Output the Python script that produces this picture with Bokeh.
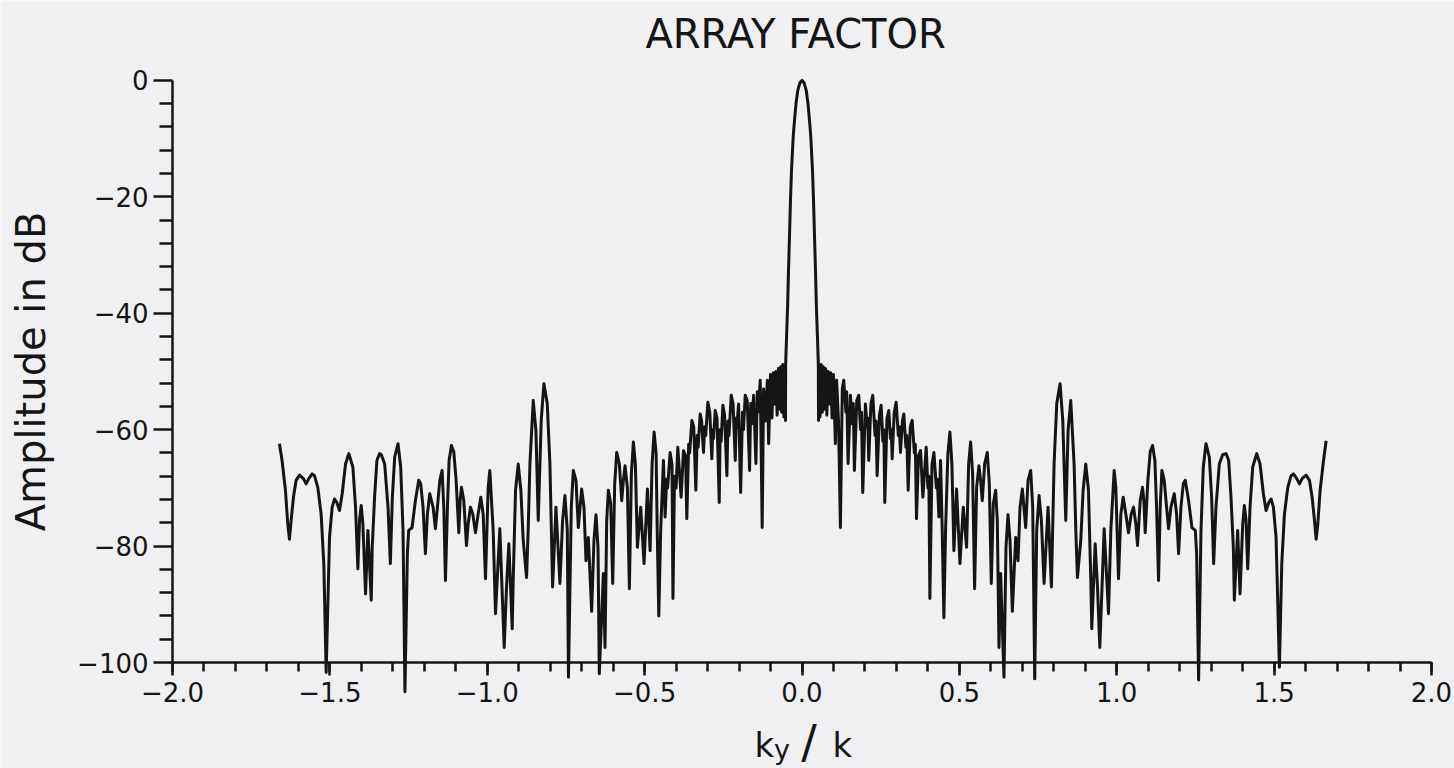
from bokeh.plotting import figure
from bokeh.models import Range1d, FixedTicker, Label
from bokeh.embed import file_html
from bokeh.resources import INLINE

# ---------------- data ----------------
# k_y / k  (left half, ascending, without 0)
K_LEFT = [
    -1.6603, -1.6519, -1.6412, -1.6338, -1.6285, -1.6232, -1.6158, -1.6073,
    -1.5967, -1.5840, -1.5755, -1.5670, -1.5564, -1.5490, -1.5384, -1.5278,
    -1.5193, -1.5118, -1.5012, -1.4927, -1.4853, -1.4779, -1.4694, -1.4609,
    -1.4503, -1.4397, -1.4270, -1.4185, -1.4111, -1.4058, -1.4005, -1.3952,
    -1.3867, -1.3792, -1.3686, -1.3654, -1.3580, -1.3506, -1.3421, -1.3365,
    -1.3259, -1.3153, -1.3079, -1.3015, -1.2941, -1.2835, -1.2750, -1.2676,
    -1.2615, -1.2538, -1.2496, -1.2389, -1.2283, -1.2177, -1.2114, -1.2040,
    -1.1965, -1.1902, -1.1827, -1.1721, -1.1647, -1.1583, -1.1508, -1.1434,
    -1.1381, -1.1328, -1.1265, -1.1212, -1.1138, -1.1063, -1.0989, -1.0904,
    -1.0862, -1.0820, -1.0745, -1.0660, -1.0607, -1.0533, -1.0459, -1.0374,
    -1.0289, -1.0205, -1.0130, -1.0056, -0.9971, -0.9918, -0.9812, -0.9738,
    -0.9600, -0.9462, -0.9388, -0.9314, -0.9207, -0.9176, -0.9101, -0.9016,
    -0.8932, -0.8857, -0.8751, -0.8700, -0.8645, -0.8539, -0.8454, -0.8380,
    -0.8285, -0.8200, -0.8094, -0.8009, -0.7924, -0.7818, -0.7691, -0.7606,
    -0.7532, -0.7457, -0.7420, -0.7330, -0.7266, -0.7181, -0.7107, -0.7001,
    -0.6927, -0.6863, -0.6789, -0.6683, -0.6609, -0.6545, -0.6481, -0.6440,
    -0.6311, -0.6259, -0.6205, -0.6152, -0.6078, -0.6014, -0.5951, -0.5887,
    -0.5802, -0.5728, -0.5675, -0.5622, -0.5548, -0.5484, -0.5421, -0.5357,
    -0.5294, -0.5230, -0.5124, -0.5018, -0.4911, -0.4826, -0.4763, -0.4699,
    -0.4635, -0.4600, -0.4550, -0.4490, -0.4402, -0.4349, -0.4300, -0.4270,
    -0.4190, -0.4130, -0.4100, -0.4050, -0.4000, -0.3946, -0.3840, -0.3766,
    -0.3700, -0.3660, -0.3600, -0.3570, -0.3500, -0.3440, -0.3373, -0.3330,
    -0.3300, -0.3235, -0.3190, -0.3129, -0.3090, -0.3060, -0.2991, -0.2930,
    -0.2864, -0.2835, -0.2810, -0.2758, -0.2700, -0.2630, -0.2600, -0.2570,
    -0.2514, -0.2460, -0.2387, -0.2350, -0.2320, -0.2249, -0.2190, -0.2120,
    -0.2090, -0.2070, -0.2015, -0.1950, -0.1890, -0.1860, -0.1803, -0.1740,
    -0.1665, -0.1630, -0.1600, -0.1538, -0.1464, -0.1420, -0.1395, -0.1326,
    -0.1265, -0.1220, -0.1160, -0.1100, -0.1060, -0.1000, -0.0955, -0.0910,
    -0.0870, -0.0830, -0.0790, -0.0750, -0.0715, -0.0680, -0.0645, -0.0610,
    -0.0575, -0.0545, -0.0525, -0.0519, -0.0490, -0.0455, -0.0428, -0.0398,
    -0.0368, -0.0334, -0.0280, -0.0240, -0.0191, -0.0134, -0.0065,
]
# amplitude in dB (left half)
DB_LEFT = [
    -62.4, -65.3, -70.4, -76.2, -78.8, -75.6, -71.6, -68.7,
    -67.8, -68.4, -69.3, -68.4, -67.6, -67.9, -69.9, -74.5,
    -83.0, -101.7, -78.5, -73.3, -71.9, -72.5, -73.9, -71.0,
    -65.9, -64.1, -66.4, -73.3, -83.9, -75.6, -73.0, -76.2,
    -88.2, -77.3, -89.3, -80.2, -71.6, -65.3, -64.1, -64.3,
    -65.9, -73.3, -83.0, -71.6, -64.7, -62.4, -66.4, -77.3,
    -105.0, -81.3, -77.3, -76.8, -72.2, -68.7, -69.3, -73.3,
    -81.3, -74.5, -71.0, -73.3, -77.0, -73.3, -68.7, -67.0,
    -73.3, -85.9, -73.3, -65.3, -62.7, -63.8, -68.7, -77.7,
    -72.2, -69.9, -72.2, -79.9, -76.2, -73.3, -74.5, -77.7,
    -74.5, -71.6, -74.5, -85.6, -69.9, -67.0, -77.3, -91.6,
    -77.0, -97.4, -87.0, -79.6, -94.2, -85.9, -70.4, -65.9,
    -70.4, -79.0, -85.4, -77.3, -65.9, -55.0, -60.1, -75.6,
    -58.4, -52.1, -55.5, -65.9, -87.0, -73.3, -86.4, -75.6,
    -71.3, -77.3, -102.5, -73.3, -67.0, -68.7, -76.8, -70.2,
    -73.3, -82.5, -78.5, -91.2, -79.0, -74.6, -80.2, -101.9,
    -84.7, -97.4, -75.6, -70.4, -72.7, -86.4, -69.3, -63.9,
    -65.9, -72.2, -68.7, -66.2, -69.9, -87.3, -67.6, -62.1,
    -65.9, -80.2, -73.3, -83.0, -70.2, -80.8, -65.9, -60.4,
    -64.1, -77.3, -92.0, -77.3, -65.3, -75.0, -68.5, -70.0,
    -63.9, -66.0, -89.0, -68.0, -70.0, -63.0, -71.6, -63.6,
    -64.5, -75.3, -62.5, -64.0, -58.4, -59.5, -70.4, -61.0,
    -63.0, -57.3, -58.5, -63.9, -59.5, -61.0, -55.3, -57.0,
    -65.0, -60.0, -61.5, -56.7, -58.0, -72.5, -60.0, -62.0,
    -55.8, -57.5, -67.9, -58.5, -61.0, -54.1, -55.5, -65.3,
    -58.0, -59.5, -55.6, -70.8, -57.0, -60.0, -54.1, -55.0,
    -67.0, -55.5, -59.0, -54.1, -65.8, -53.5, -57.0, -51.5,
    -76.8, -53.0, -58.5, -51.5, -62.4, -50.5, -58.0, -50.2,
    -55.6, -50.0, -57.5, -49.5, -56.5, -49.2, -57.0, -48.8,
    -57.8, -49.0, -58.4, -48.7, -44.0, -38.4, -32.5, -26.9,
    -21.0, -15.5, -9.7, -7.0, -4.0, -1.7, -0.4,
]
# k_y / k  (right half, from 0, ascending)
K_RIGHT = [
    0.0000, 0.0065, 0.0134, 0.0191, 0.0240, 0.0280, 0.0334, 0.0368,
    0.0398, 0.0428, 0.0455, 0.0490, 0.0519, 0.0525, 0.0545, 0.0575,
    0.0610, 0.0645, 0.0680, 0.0715, 0.0750, 0.0790, 0.0830, 0.0870,
    0.0910, 0.0955, 0.1000, 0.1060, 0.1100, 0.1160, 0.1220, 0.1280,
    0.1326, 0.1395, 0.1420, 0.1464, 0.1538, 0.1600, 0.1630, 0.1665,
    0.1740, 0.1803, 0.1860, 0.1890, 0.1930, 0.2015, 0.2070, 0.2090,
    0.2120, 0.2190, 0.2249, 0.2320, 0.2350, 0.2387, 0.2460, 0.2514,
    0.2570, 0.2600, 0.2630, 0.2700, 0.2758, 0.2810, 0.2835, 0.2864,
    0.2930, 0.2991, 0.3060, 0.3090, 0.3129, 0.3190, 0.3235, 0.3300,
    0.3330, 0.3373, 0.3440, 0.3500, 0.3570, 0.3600, 0.3638, 0.3700,
    0.3766, 0.3840, 0.3946, 0.4000, 0.4030, 0.4063, 0.4130, 0.4190,
    0.4270, 0.4300, 0.4349, 0.4402, 0.4455, 0.4508, 0.4561, 0.4635,
    0.4699, 0.4763, 0.4826, 0.4911, 0.5018, 0.5124, 0.5230, 0.5294,
    0.5357, 0.5421, 0.5484, 0.5548, 0.5622, 0.5675, 0.5728, 0.5802,
    0.5887, 0.5951, 0.6014, 0.6078, 0.6152, 0.6205, 0.6259, 0.6311,
    0.6417, 0.6481, 0.6545, 0.6609, 0.6683, 0.6789, 0.6863, 0.6927,
    0.7001, 0.7107, 0.7181, 0.7266, 0.7330, 0.7394, 0.7457, 0.7532,
    0.7606, 0.7691, 0.7818, 0.7924, 0.8009, 0.8094, 0.8200, 0.8285,
    0.8380, 0.8454, 0.8539, 0.8645, 0.8700, 0.8751, 0.8857, 0.8932,
    0.9016, 0.9101, 0.9176, 0.9207, 0.9314, 0.9388, 0.9462, 0.9600,
    0.9738, 0.9812, 0.9918, 0.9971, 1.0056, 1.0130, 1.0205, 1.0289,
    1.0374, 1.0459, 1.0533, 1.0607, 1.0660, 1.0745, 1.0820, 1.0862,
    1.0904, 1.0989, 1.1063, 1.1138, 1.1212, 1.1265, 1.1328, 1.1381,
    1.1434, 1.1508, 1.1583, 1.1647, 1.1721, 1.1827, 1.1902, 1.1965,
    1.2040, 1.2114, 1.2177, 1.2283, 1.2389, 1.2496, 1.2538, 1.2601,
    1.2676, 1.2750, 1.2835, 1.2941, 1.3015, 1.3079, 1.3153, 1.3259,
    1.3365, 1.3471, 1.3556, 1.3630, 1.3704, 1.3736, 1.3842, 1.3917,
    1.4002, 1.4055, 1.4108, 1.4161, 1.4235, 1.4320, 1.4447, 1.4553,
    1.4659, 1.4744, 1.4829, 1.4903, 1.4977, 1.5062, 1.5168, 1.5243,
    1.5328, 1.5434, 1.5540, 1.5614, 1.5720, 1.5805, 1.5890, 1.6017,
    1.6123, 1.6208, 1.6282, 1.6335, 1.6388, 1.6462, 1.6569, 1.6653,
]
# amplitude in dB (right half)
DB_RIGHT = [
    0.0, -0.4, -1.7, -4.0, -7.0, -9.7, -15.5, -21.0,
    -26.9, -32.5, -38.4, -44.0, -48.7, -58.4, -49.0, -57.8,
    -48.8, -57.0, -49.2, -56.5, -49.5, -57.5, -50.0, -55.6,
    -50.2, -58.0, -50.5, -62.4, -51.5, -58.5, -76.8, -53.0,
    -51.5, -57.0, -53.5, -65.8, -54.1, -59.0, -55.5, -67.0,
    -55.0, -54.1, -60.0, -57.0, -70.8, -55.6, -59.5, -58.0,
    -65.3, -55.5, -54.1, -61.0, -58.5, -67.9, -57.5, -55.8,
    -62.0, -60.0, -72.5, -58.0, -56.7, -61.5, -60.0, -65.0,
    -57.0, -55.3, -61.0, -59.5, -63.9, -58.5, -57.3, -63.0,
    -61.0, -70.4, -59.5, -58.4, -64.0, -62.5, -75.3, -64.5,
    -63.6, -71.6, -63.0, -70.0, -68.0, -89.0, -66.0, -63.9,
    -70.0, -68.5, -75.0, -65.3, -77.3, -92.3, -77.3, -64.1,
    -60.4, -65.9, -80.8, -70.2, -83.0, -73.3, -80.2, -65.9,
    -62.1, -67.6, -87.3, -69.9, -66.2, -68.7, -72.2, -65.9,
    -63.9, -69.3, -86.4, -72.7, -70.4, -75.6, -97.4, -84.7,
    -102.5, -80.2, -74.6, -79.0, -91.2, -78.5, -82.5, -73.3,
    -70.2, -76.8, -68.7, -67.0, -73.3, -102.8, -77.3, -71.3,
    -75.6, -86.4, -73.3, -87.0, -65.9, -55.5, -52.1, -58.4,
    -75.6, -60.1, -55.0, -65.9, -77.3, -85.4, -79.0, -70.4,
    -65.9, -70.4, -85.9, -94.2, -79.6, -87.0, -97.4, -77.0,
    -91.6, -77.3, -67.0, -69.9, -85.6, -74.5, -71.6, -74.5,
    -77.7, -74.5, -73.3, -76.2, -79.9, -72.2, -69.9, -72.2,
    -77.7, -68.7, -63.8, -62.7, -65.3, -73.3, -85.9, -73.3,
    -67.0, -68.7, -73.3, -77.0, -73.3, -71.0, -74.5, -81.3,
    -73.3, -69.3, -68.7, -72.2, -76.8, -77.3, -81.3, -103.0,
    -77.3, -66.4, -62.4, -64.7, -71.6, -83.0, -73.3, -65.9,
    -64.3, -64.1, -65.3, -71.6, -80.2, -89.3, -77.3, -88.2,
    -76.2, -73.0, -75.6, -83.9, -73.3, -66.4, -64.1, -65.9,
    -71.0, -73.9, -72.5, -71.9, -73.3, -78.5, -100.8, -83.0,
    -74.5, -69.9, -67.9, -67.6, -68.4, -69.3, -68.4, -67.8,
    -68.7, -71.6, -75.6, -78.8, -76.2, -70.4, -65.3, -61.9,
]

Y_TICKS = [-100, -80, -60, -40, -20, 0]
Y_TICK_LABELS = ["\u2212100", "\u221280", "\u221260", "\u221240", "\u221220", "0"]
X_TICKS = [-2.0, -1.5, -1.0, -0.5, 0.0, 0.5, 1.0, 1.5, 2.0]
X_TICK_LABELS = ["\u22122.0", "\u22121.5", "\u22121.0", "\u22120.5", "0.0",
                 "0.5", "1.0", "1.5", "2.0"]
TITLE = "ARRAY  FACTOR"
Y_LABEL = "Amplitude in dB"
X_LABEL_PARTS = ["k", "y", "/", "k"]

# ---------------- figure ----------------
K = K_LEFT + K_RIGHT
DB = DB_LEFT + DB_RIGHT

BG = "#f0f0f2"
INK = "#151515"
FONT = "DejaVu Sans"

# The data frame covers the whole canvas; the axes are pinned at k=-2 and
# -100 dB, so titles and labels can sit inside it without being clipped.
p = figure(width=1454, height=768,
           x_range=Range1d(-2.5465, 2.0731), y_range=Range1d(-118.196, 13.727),
           output_backend="svg", toolbar_location=None, title=None,
           min_border=0,
           background_fill_color=BG, border_fill_color=BG,
           outline_line_color=None)
p.grid.visible = False

# y axis
ya = p.yaxis[0]
ya.ticker = FixedTicker(ticks=Y_TICKS,
                        minor_ticks=[v for v in range(-100, 1, 4) if v % 20 != 0])
ya.major_label_overrides = dict(zip(Y_TICKS, Y_TICK_LABELS))
ya.fixed_location = -2.0
ya.bounds = (-100, 0)
ya.major_tick_out = 19
ya.major_tick_in = 0
ya.minor_tick_out = 13
ya.minor_tick_in = 0
ya.major_label_standoff = 5
ya.axis_label = Y_LABEL
ya.axis_label_standoff = 20
ya.axis_label_text_font = FONT
ya.axis_label_text_font_size = "40px"
ya.axis_label_text_font_style = "normal"
ya.axis_label_text_color = INK

# x axis, drawn at -100 dB so that deep nulls can pass through it
xa = p.xaxis[0]
xa.ticker = FixedTicker(ticks=X_TICKS,
                        minor_ticks=[round(-2.0 + 0.1 * i, 1) for i in range(41)])
xa.major_label_overrides = dict(zip(X_TICKS, X_TICK_LABELS))
xa.fixed_location = -100
xa.bounds = (-2.0, 2.0)
xa.major_tick_out = 13
xa.major_tick_in = 0
xa.minor_tick_out = 9
xa.minor_tick_in = 0
xa.major_label_standoff = 6

for ax in (xa, ya):
    ax.axis_line_color = INK
    ax.axis_line_width = 2.5
    ax.major_tick_line_color = INK
    ax.major_tick_line_width = 2.5
    ax.minor_tick_line_color = INK
    ax.minor_tick_line_width = 2.5
    ax.major_label_text_font = FONT
    ax.major_label_text_font_size = "26px"
    ax.major_label_text_color = INK

p.line(K, DB, line_width=3.0, line_color=INK, line_join="round")


def add_text(x, y, text, size, align="left"):
    p.add_layout(Label(x=x, y=y, text=text, text_align=align,
                       text_baseline="alphabetic", text_font=FONT,
                       text_font_size=size, text_color=INK))


# title
add_text(0.0, 7.9, TITLE, "40px", align="center")
# x axis label  k_y / k
add_text(-0.1510, -114.1, X_LABEL_PARTS[0], "34px")
add_text(-0.0890, -115.0, X_LABEL_PARTS[1], "27px")
add_text(-0.0020, -113.6, X_LABEL_PARTS[2], "46px")
add_text(0.0969, -114.1, X_LABEL_PARTS[3], "34px")

open("out.html", "w", encoding="utf-8").write(file_html(p, INLINE, title="Array factor"))
